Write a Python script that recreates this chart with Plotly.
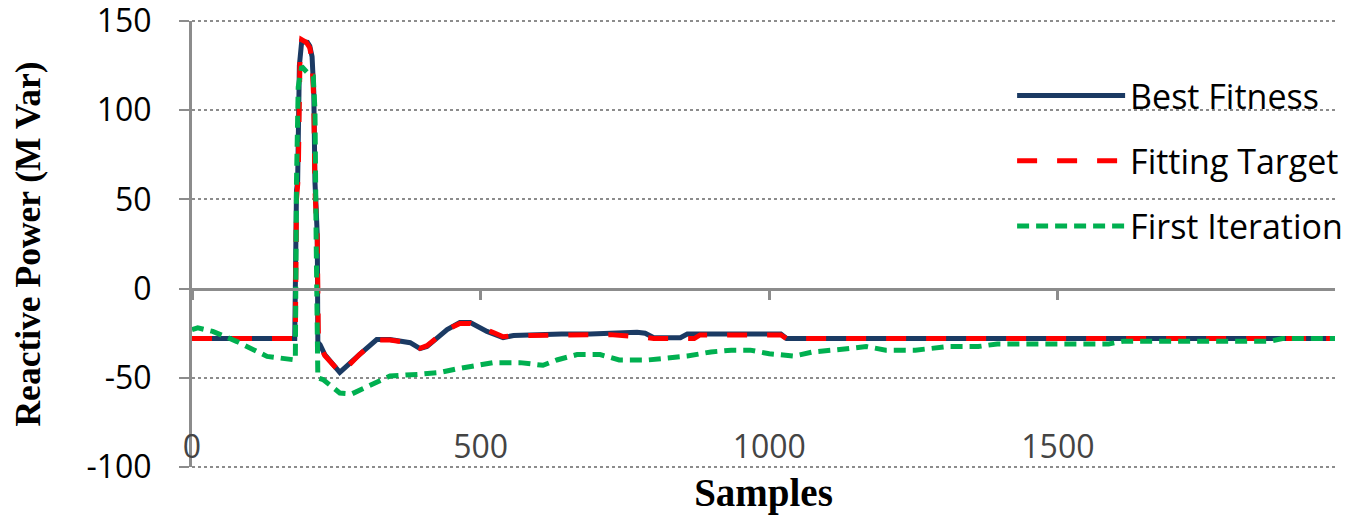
import plotly.graph_objects as go

# ---- data ----
best_x = [0, 178, 181, 183, 186, 190, 200, 204, 208, 211, 213, 215, 217, 218, 222, 230, 256,
          290, 320, 343, 378, 395, 407, 442, 464, 482, 511, 539, 557, 640, 690, 771, 785,
          800, 846, 858, 1020, 1030, 1980]
best_y = [-28, -28, 55, 60, 125, 138.5, 138, 136, 130, 110, 60, 40, 30, -30, -31.5, -37, -47,
          -37, -28.6, -28.6, -30.3, -33.6, -32.5, -23, -19, -19, -24, -27.5, -26.3, -25.5, -25.5, -24.5, -25,
          -27.5, -27.5, -25.5, -25.5, -28, -28]

target_x = [0, 179, 181, 184, 187, 190, 198, 204, 208, 211, 213, 215, 217, 219, 222, 230, 258,
            290, 320, 343, 378, 395, 407, 442, 464, 482, 521, 539, 557, 655, 724, 776,
            800, 870, 880, 1020, 1030, 1980]
target_y = [-28, -28, 50, 62, 128, 139.5, 138, 135, 128, 105, 55, 42, 28, -30, -32, -37.5, -47.5,
            -37, -28.8, -28.8, -30.5, -33.5, -32, -23, -19.5, -19.5, -24.5, -27, -26.3, -26.3, -25.8, -27,
            -28, -28, -26, -26, -28, -28]

first_x = [0, 10, 36, 78, 130, 175, 179, 181, 184, 190, 200, 210, 213, 215, 218, 227, 240, 256,
           277, 303, 314, 343, 395, 430, 459, 494, 522, 568, 608, 632, 667, 707, 740, 790, 816,
           858, 899, 934, 967, 1000, 1043, 1076, 1126, 1168, 1202, 1253, 1310, 1362, 1395, 1463,
           1588, 1613, 1697, 1797, 1868, 1889, 1980]
first_y = [-23, -22, -24, -29.7, -38, -40, -40, 60, 113, 124.5, 121, 119, 100, 30, -50, -51, -54, -58.5,
           -59, -55, -54, -49, -48, -47, -45, -43, -41.5, -41.5, -43, -40, -37, -37, -40, -40, -39,
           -37.8, -35.5, -34.5, -34.5, -36.5, -37.8, -35.5, -34, -32.5, -34.5, -34.5, -32.5, -32.5, -31, -31,
           -31, -29.5, -29.5, -29.5, -29.5, -28, -28]

series_names = ["Best Fitness", "Fitting Target", "First Iteration"]
x_ticks = [0, 500, 1000, 1500]
y_ticks = [-100, -50, 0, 50, 100, 150]
y_ticktext = ["-100", "-50", "0", "50", "100", "150"]

GRAY = "#8c8c8c"
fig = go.Figure()
fig.add_trace(go.Scatter(x=best_x, y=best_y, mode="lines", name=series_names[0],
                         legendgroup="a", line=dict(color="#1b3a63", width=5)))
fig.add_trace(go.Scatter(x=target_x, y=target_y, mode="lines", name=series_names[1],
                         legendgroup="b", line=dict(color="#ff0000", width=5, dash="20px,20px")))
fig.add_trace(go.Scatter(x=first_x, y=first_y, mode="lines", name=series_names[2],
                         legendgroup="c", line=dict(color="#00b050", width=5, dash="12px,7px")))
# axis carrying the tick marks on the zero line
fig.add_trace(go.Scatter(x=[], y=[], xaxis="x2", showlegend=False, hoverinfo="skip"))

# dotted gridlines on the top and bottom edges of the plot area
edge_grid = [dict(type="line", xref="paper", yref="paper", x0=0, x1=1, y0=e, y1=e,
                  line=dict(color=GRAY, width=2, dash="dot"), layer="below") for e in (0, 1)]

fig.update_layout(
    width=1345, height=507,
    margin=dict(l=184, r=18, t=13, b=48, autoexpand=False),
    paper_bgcolor="white", plot_bgcolor="white",
    font=dict(family="Open Sans", color="black"),
    shapes=edge_grid,
    xaxis=dict(range=[0, 1980], tickvals=x_ticks, ticktext=[str(v) for v in x_ticks],
               showgrid=False, zeroline=False, showline=False, ticks="",
               ticklabelposition="inside", ticklabeloverflow="allow", automargin=False,
               tickfont=dict(size=32, family="Open Sans"),
               title=dict(text="<b>Samples</b>", font=dict(family="Liberation Serif", size=39))),
    xaxis2=dict(overlaying="x", anchor="free", position=0.4, range=[0, 1980],
                tickvals=x_ticks, showticklabels=False, ticks="outside", ticklen=9,
                tickwidth=3, tickcolor=GRAY, showline=True, linecolor=GRAY, linewidth=3,
                showgrid=False, zeroline=False, automargin=False),
    yaxis=dict(range=[-100, 150], tickvals=y_ticks, ticktext=y_ticktext, showgrid=True,
               gridcolor=GRAY, griddash="dot", gridwidth=2, zeroline=False, showline=True,
               linecolor=GRAY, linewidth=3, ticks="outside", ticklen=10, tickwidth=2,
               tickcolor=GRAY, ticklabelstandoff=21, ticklabeloverflow="allow", automargin=True,
               tickfont=dict(size=32, family="Open Sans"),
               title=dict(text="<b>Reactive Power (M Var)</b>",
                          font=dict(family="Liberation Serif", size=35.5), standoff=36)),
    legend=dict(x=0.7175, y=0.897, xanchor="left", yanchor="top", bgcolor="rgba(0,0,0,0)",
                font=dict(size=34, family="Open Sans"), itemwidth=108, tracegroupgap=18),
    showlegend=True,
)

fig.write_html("out.html")
